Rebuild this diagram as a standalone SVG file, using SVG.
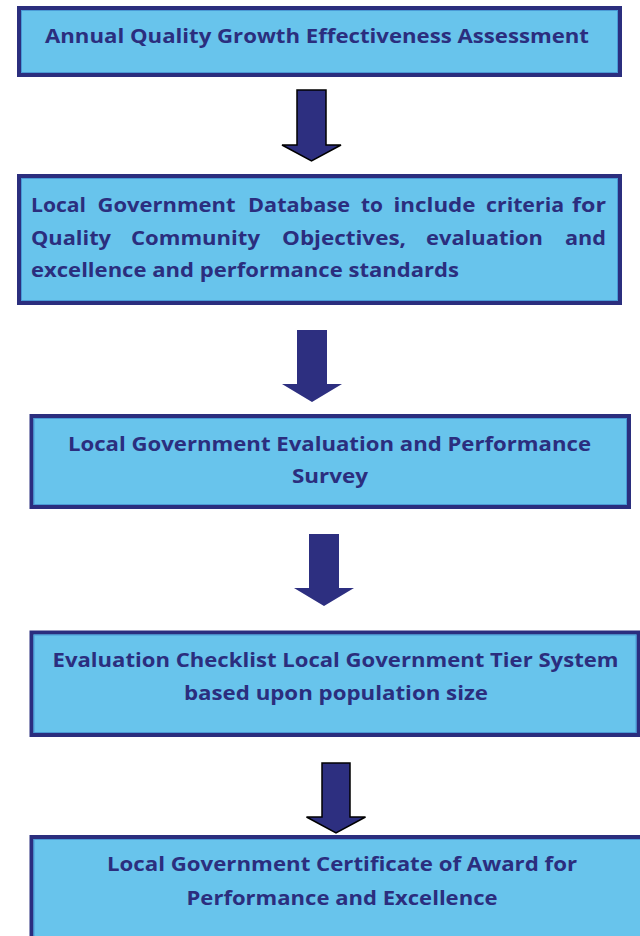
<svg xmlns="http://www.w3.org/2000/svg" width="640" height="936" viewBox="0 0 640 936">
<style>
.box{fill:#68C4EC;stroke:#2B2E7E;stroke-width:4}
.inner{fill:none;stroke:#4A9AD6;stroke-width:1}
.t{font-family:"Open Sans","Liberation Sans",sans-serif;font-weight:bold;font-size:20px;fill:#2B2E7E}
.arrow{fill:#2D2F80}
.ol{stroke:#000;stroke-width:1.5;stroke-linejoin:miter}
</style>
<rect width="640" height="936" fill="#fff"/>
<g id="connectors">
<polygon class="arrow ol" points="297,90 326,90 326,145 341,145 311.5,161 282,145 297,145"/>
<polygon class="arrow" points="297,330 327,330 327,384 342,384 312,402 282,384 297,384"/>
<polygon class="arrow" points="309,534 339,534 339,588 354,588 324,606 294,588 309,588"/>
<polygon class="arrow ol" points="322,763 350,763 350,817 365.5,817 336,833 306.5,817 322,817"/>
</g>
<g id="node1">
<rect class="box" x="19" y="8" width="601" height="67"/>
<rect class="inner" x="21.5" y="10.5" width="596" height="62"/>
<text class="t" x="45" y="43" textLength="544" lengthAdjust="spacingAndGlyphs">Annual Quality Growth Effectiveness Assessment</text>
</g>
<g id="node2">
<rect class="box" x="19" y="176" width="601" height="127"/>
<rect class="inner" x="21.5" y="178.5" width="596" height="122"/>
<text class="t" y="212"><tspan x="31" textLength="55" lengthAdjust="spacingAndGlyphs">Local</tspan> <tspan x="97.5" textLength="138" lengthAdjust="spacingAndGlyphs">Government</tspan> <tspan x="248" textLength="102" lengthAdjust="spacingAndGlyphs">Database</tspan> <tspan x="361" textLength="22" lengthAdjust="spacingAndGlyphs">to</tspan> <tspan x="393.5" textLength="82" lengthAdjust="spacingAndGlyphs">include</tspan> <tspan x="486" textLength="78" lengthAdjust="spacingAndGlyphs">criteria</tspan> <tspan x="572" textLength="34" lengthAdjust="spacingAndGlyphs">for</tspan></text>
<text class="t" y="245"><tspan x="31" textLength="80" lengthAdjust="spacingAndGlyphs">Quality</tspan> <tspan x="131" textLength="129" lengthAdjust="spacingAndGlyphs">Community</tspan> <tspan x="282" textLength="124" lengthAdjust="spacingAndGlyphs">Objectives,</tspan> <tspan x="426" textLength="117" lengthAdjust="spacingAndGlyphs">evaluation</tspan> <tspan x="565" textLength="41" lengthAdjust="spacingAndGlyphs">and</tspan></text>
<text class="t" x="31" y="277" textLength="428" lengthAdjust="spacingAndGlyphs">excellence and performance standards</text>
</g>
<g id="node3">
<rect class="box" x="31.5" y="416" width="597.5" height="91"/>
<rect class="inner" x="34" y="418.5" width="592.5" height="86"/>
<text class="t" x="68" y="451" textLength="523" lengthAdjust="spacingAndGlyphs">Local Government Evaluation and Performance</text>
<text class="t" x="292" y="483" textLength="76" lengthAdjust="spacingAndGlyphs">Survey</text>
</g>
<g id="node4">
<rect class="box" x="31.5" y="632.5" width="607" height="102.5"/>
<rect class="inner" x="34" y="635" width="602" height="97.5"/>
<text class="t" x="52.5" y="667" textLength="566" lengthAdjust="spacingAndGlyphs">Evaluation Checklist Local Government Tier System</text>
<text class="t" x="184" y="700" textLength="304" lengthAdjust="spacingAndGlyphs">based upon population size</text>
</g>
<g id="node5">
<rect class="box" x="31.5" y="837" width="625" height="120"/>
<rect class="inner" x="34" y="839.5" width="620" height="115"/>
<text class="t" x="107" y="871" textLength="470" lengthAdjust="spacingAndGlyphs">Local Government Certificate of Award for</text>
<text class="t" x="186.5" y="905" textLength="311" lengthAdjust="spacingAndGlyphs">Performance and Excellence</text>
</g>
</svg>
